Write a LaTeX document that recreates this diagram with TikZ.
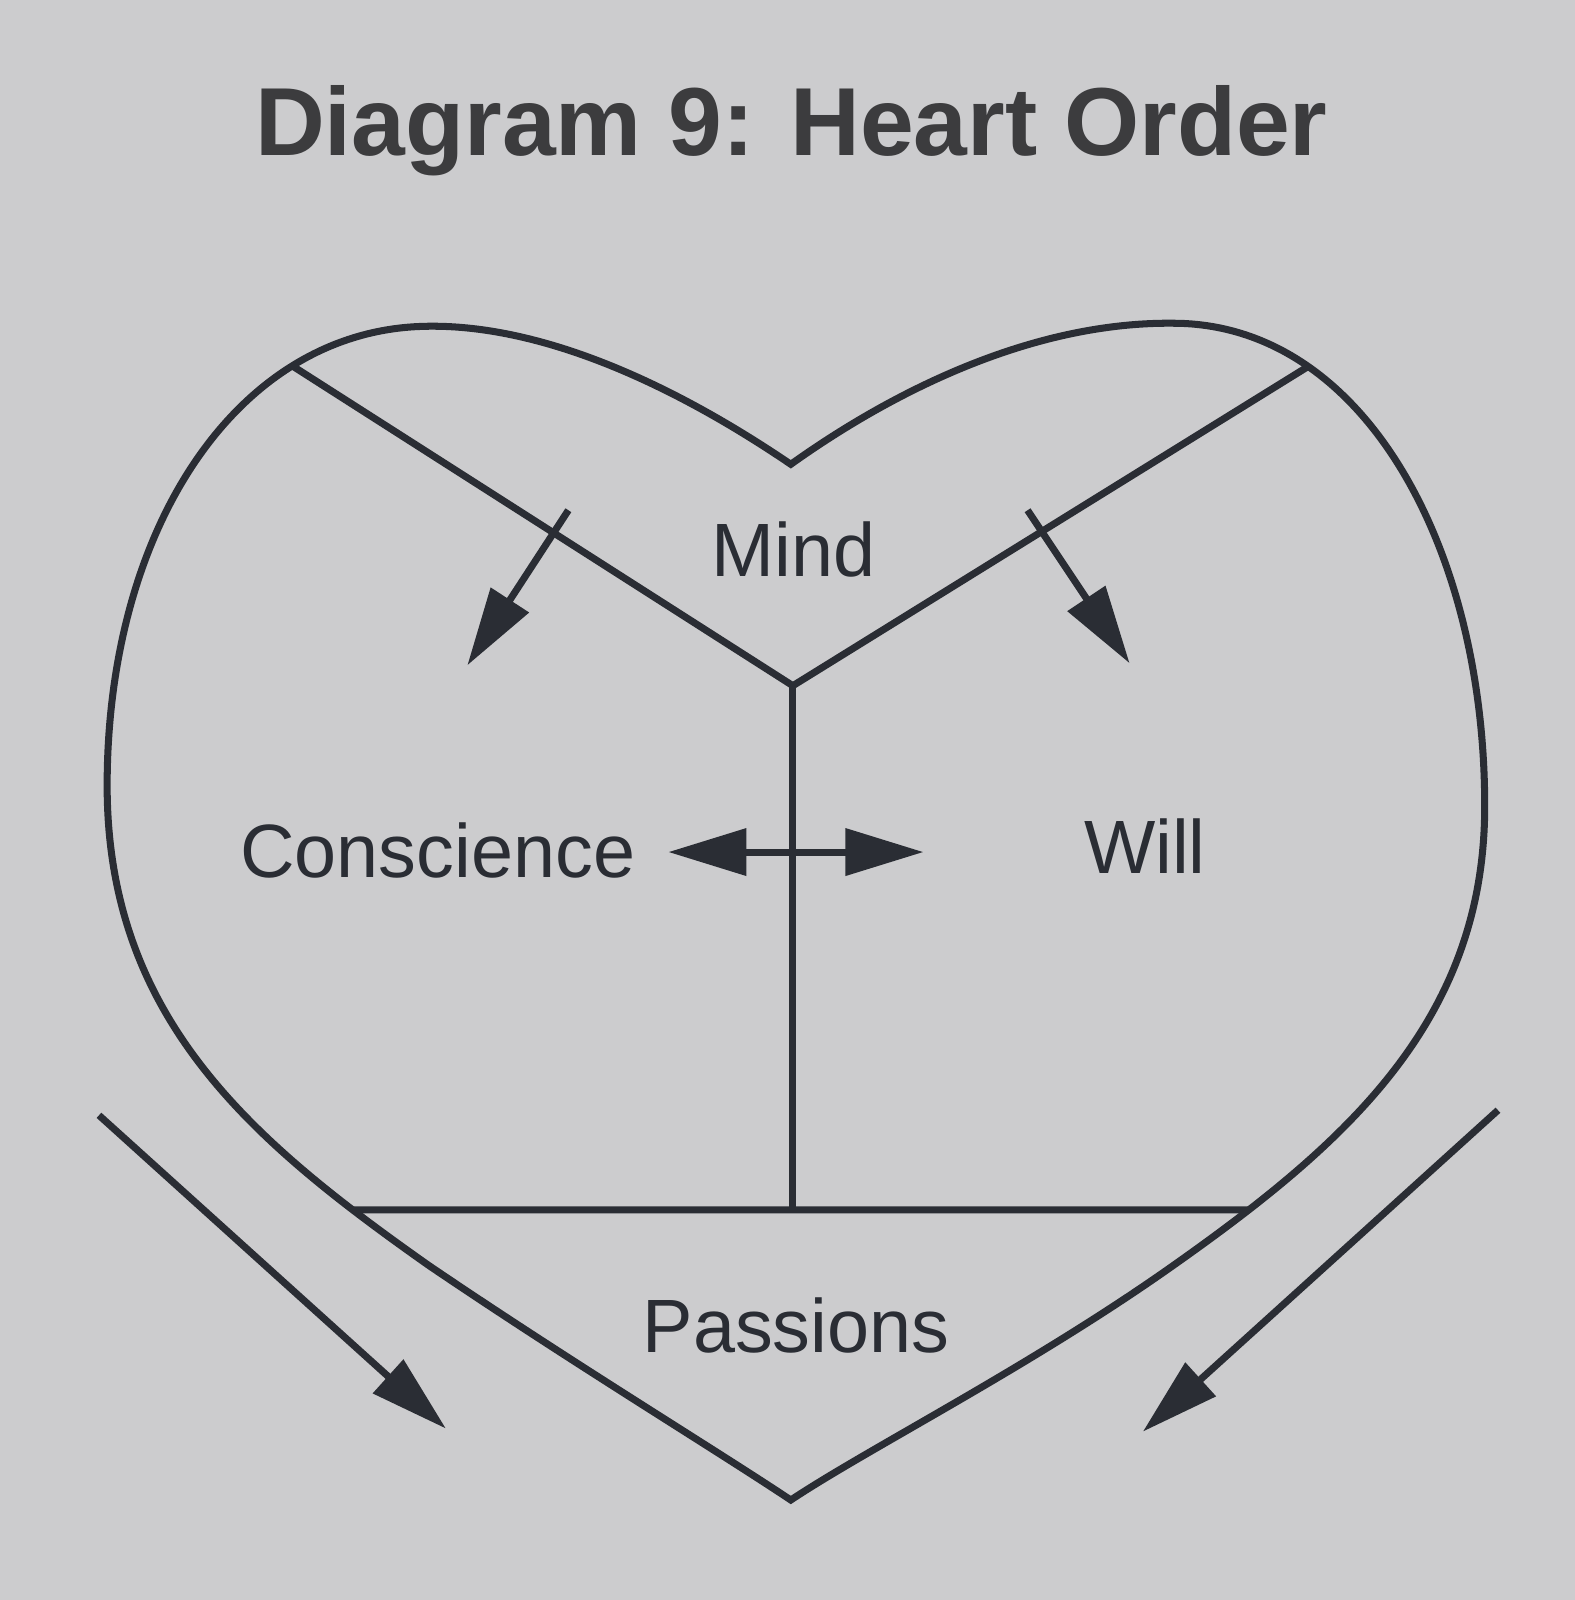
\documentclass[tikz,border=0pt]{standalone}
\usepackage{fontspec}
\setmainfont{Liberation Sans}
\usetikzlibrary{arrows.meta}
\definecolor{ink}{RGB}{42,45,52}
\definecolor{paper}{RGB}{204,204,206}
\definecolor{titleink}{RGB}{60,60,62}

\begin{document}
\begin{tikzpicture}[x=1.0204cm,y=-1.0204cm]
	\tikzstyle{part}=[draw=ink, line width=2pt]
	\tikzstyle{flow}=[draw=ink, line width=2pt, -{Triangle[length=0.78cm,width=0.44cm]}]
	\tikzstyle{label}=[text=ink, anchor=base, font=\fontsize{21.5}{26}\selectfont]
	
	\fill[paper] (0,0) rectangle (15.43,15.68);
	\useasboundingbox (0,0) rectangle (15.43,15.68);
	
	\node[anchor=base, text=titleink, font=\bfseries\fontsize{27.5}{32}\selectfont] (title) at (7.755,1.52) {Diagram 9: Heart Order};
	
	% heart outline
	\draw[part] (7.75,4.55) .. controls (6.5,3.7) and (5.2,3.15) .. (4.1,3.2)
		.. controls (2.3,3.28) and (1.05,5.2) .. coordinate[pos=0.25] (topL) (1.05,7.7)
		.. controls (1.05,10) and (2.5,11.2) .. coordinate[pos=0.85] (baseL) (4.2,12.4)
		.. controls (5.6,13.35) and (7.0,14.2) .. (7.75,14.7)
		.. controls (8.5,14.2) and (10.1,13.39) .. (11.5,12.4)
		.. controls (13.2,11.2) and (14.55,10) .. coordinate[pos=0.15] (baseR) (14.55,7.9)
		.. controls (14.55,5.4) and (13.4,3.25) .. coordinate[pos=0.75] (topR) (11.6,3.17)
		.. controls (10.2,3.12) and (8.8,3.8) .. cycle;
	
	% parts
	\coordinate (fork) at (7.77,6.72);
	\coordinate (foot) at (7.77,11.86);
	\draw[part] (topL) -- (fork) -- (topR);
	\draw[part] (fork) -- (foot);
	\draw[part] (baseL) -- (baseR);
	
	\node[label] (mind) at (7.78,5.65) {Mind};
	\node[label] (conscience) at (4.29,8.6) {Conscience};
	\node[label] (will) at (11.22,8.56) {Will};
	\node[label] (passions) at (7.8,13.25) {Passions};
	
	% arrows
	\coordinate (mindL) at (5.57,5.0);
	\coordinate (toConscience) at (4.58,6.52);
	\coordinate (mindR) at (10.07,5.0);
	\coordinate (toWill) at (11.07,6.5);
	\coordinate (leftEnd) at (6.55,8.35);
	\coordinate (rightEnd) at (9.05,8.35);
	\coordinate (outL) at (0.97,10.93);
	\coordinate (inL) at (4.37,14.0);
	\coordinate (outR) at (14.68,10.88);
	\coordinate (inR) at (11.2,14.03);
	
	\draw[flow] (mindL) -- (toConscience);
	\draw[flow] (mindR) -- (toWill);
	\draw[flow, {Triangle[length=0.78cm,width=0.46cm]}-{Triangle[length=0.78cm,width=0.46cm]}] (leftEnd) -- (rightEnd);
	\draw[flow] (outL) -- (inL);
	\draw[flow] (outR) -- (inR);
\end{tikzpicture}
\end{document}
